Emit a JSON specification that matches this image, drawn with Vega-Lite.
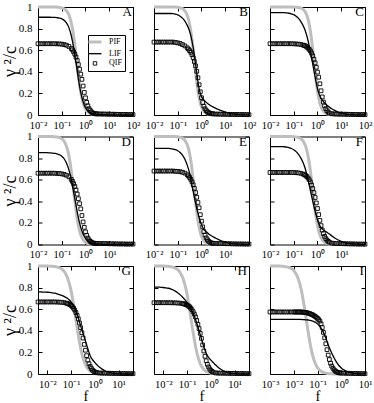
{
"$schema":"https://vega.github.io/schema/vega-lite/v6.json",
"padding":{"left":0,"top":0,"right":2,"bottom":0},
"background":"white",
"config":{
 "font":"Liberation Serif",
 "view":{"stroke":"black","strokeWidth":1},
 "axis":{"domain":false,"grid":false,"tickColor":"black","tickSize":-4,"tickWidth":1,"labelFont":"Liberation Serif","labelFontSize":11,"labelColor":"black","labelPadding":10,"labelOverlap":false,"labelFlush":false,"labelBound":false,"titleFont":"Liberation Serif","titleFontWeight":"normal","titleColor":"black"},
 "axisX":{"titleFontSize":14.5,"titlePadding":0,"labelFontSize":10.5,"labelPadding":9},
 "axisY":{"titleFontSize":18,"titlePadding":-1},
 "title":{"anchor":"end","font":"Liberation Serif","fontSize":13,"fontWeight":"normal","offset":-18,"dx":-8,"color":"black"},
 "line":{"interpolate":"monotone"},
 "point":{"shape":"square","filled":false,"stroke":"black","strokeWidth":0.9,"size":14,"opacity":1}
},
"data":{"name":"d"},
"columns":3,
"spacing":{"row":21.5,"column":21},
"bounds":"flush",
"concat":[
  {"width":95,"height":108,"title":"A",
   "transform":[{"filter":"datum.p==='A'"},{"fold":["PIF","LIF","QIF"],"as":["s","v"]}],
   "layer":[
    {"transform":[{"filter":"datum.s==='PIF'"}],"mark":{"type":"line","strokeWidth":3},
     "encoding":{
      "x":{"field":"f","type":"quantitative","scale":{"type":"log","domain":[0.01,100],"nice":false},"axis":{"values":[0.01,0.1,1,10,100],"title":null,"labelExpr":"'10' + replace(replace(replace(replace(replace(round(log(datum.value)/LN10) + '', '-', '⁻'), '0', '⁰'), '1', '¹'), '2', '²'), '3', '³')"}},
      "y":{"field":"v","type":"quantitative","scale":{"domain":[0,1],"nice":false},"axis":{"values":[0,0.2,0.4,0.6,0.8,1],"format":".1~f","title":"γ ²/c"}},
      "color":{"field":"s","type":"nominal","scale":{"domain":["PIF","LIF","QIF"],"range":["#bebebe","#000000","#000000"]},
        "legend":{"orient":"none","legendX":50,"legendY":28,"title":null,"direction":"vertical","fillColor":"white","strokeColor":"black","padding":3,"rowPadding":1.7,"labelFont":"Liberation Serif","labelFontSize":8,"labelColor":"black","labelOffset":10,"symbolSize":64,"symbolType":"stroke","labelExpr":"datum.label + '    '",
         "encode":{"symbols":{"update":{"shape":{"signal":"datum.value === 'QIF' ? 'square' : 'stroke'"},"size":{"signal":"datum.value === 'QIF' ? 12 : 169"},"strokeWidth":{"signal":"datum.value === 'PIF' ? 3 : datum.value === 'LIF' ? 1.3 : 0.9"},"fill":{"value":"transparent"}}}}}}}},
    {"transform":[{"filter":"datum.s==='LIF'"}],"mark":{"type":"line","strokeWidth":1.3},
     "encoding":{"x":{"field":"f","type":"quantitative","axis":null},"y":{"field":"v","type":"quantitative","axis":null},"color":{"field":"s","type":"nominal"}}},
    {"transform":[{"filter":"datum.s==='QIF'"}],"mark":"point",
     "encoding":{"x":{"field":"f","type":"quantitative","axis":{"orient":"top","values":[0.01,0.1,1,10,100],"labels":false,"title":null}},"y":{"field":"v","type":"quantitative","axis":{"orient":"right","values":[0,0.2,0.4,0.6,0.8,1],"labels":false,"title":null}}}}
   ],
   "resolve":{"axis":{"x":"independent","y":"independent"}}},
  {"width":95,"height":108,"title":"B",
   "transform":[{"filter":"datum.p==='B'"},{"fold":["PIF","LIF","QIF"],"as":["s","v"]}],
   "layer":[
    {"transform":[{"filter":"datum.s==='PIF'"}],"mark":{"type":"line","strokeWidth":3},
     "encoding":{
      "x":{"field":"f","type":"quantitative","scale":{"type":"log","domain":[0.01,100],"nice":false},"axis":{"values":[0.01,0.1,1,10,100],"title":null,"labelExpr":"'10' + replace(replace(replace(replace(replace(round(log(datum.value)/LN10) + '', '-', '⁻'), '0', '⁰'), '1', '¹'), '2', '²'), '3', '³')"}},
      "y":{"field":"v","type":"quantitative","scale":{"domain":[0,1],"nice":false},"axis":{"values":[0,0.2,0.4,0.6,0.8,1],"labels":false,"title":null}},
      "color":{"field":"s","type":"nominal"}}},
    {"transform":[{"filter":"datum.s==='LIF'"}],"mark":{"type":"line","strokeWidth":1.3},
     "encoding":{"x":{"field":"f","type":"quantitative","axis":null},"y":{"field":"v","type":"quantitative","axis":null},"color":{"field":"s","type":"nominal"}}},
    {"transform":[{"filter":"datum.s==='QIF'"}],"mark":"point",
     "encoding":{"x":{"field":"f","type":"quantitative","axis":{"orient":"top","values":[0.01,0.1,1,10,100],"labels":false,"title":null}},"y":{"field":"v","type":"quantitative","axis":{"orient":"right","values":[0,0.2,0.4,0.6,0.8,1],"labels":false,"title":null}}}}
   ],
   "resolve":{"axis":{"x":"independent","y":"independent"}}},
  {"width":95,"height":108,"title":"C",
   "transform":[{"filter":"datum.p==='C'"},{"fold":["PIF","LIF","QIF"],"as":["s","v"]}],
   "layer":[
    {"transform":[{"filter":"datum.s==='PIF'"}],"mark":{"type":"line","strokeWidth":3},
     "encoding":{
      "x":{"field":"f","type":"quantitative","scale":{"type":"log","domain":[0.01,100],"nice":false},"axis":{"values":[0.01,0.1,1,10,100],"title":null,"labelExpr":"'10' + replace(replace(replace(replace(replace(round(log(datum.value)/LN10) + '', '-', '⁻'), '0', '⁰'), '1', '¹'), '2', '²'), '3', '³')"}},
      "y":{"field":"v","type":"quantitative","scale":{"domain":[0,1],"nice":false},"axis":{"values":[0,0.2,0.4,0.6,0.8,1],"labels":false,"title":null}},
      "color":{"field":"s","type":"nominal"}}},
    {"transform":[{"filter":"datum.s==='LIF'"}],"mark":{"type":"line","strokeWidth":1.3},
     "encoding":{"x":{"field":"f","type":"quantitative","axis":null},"y":{"field":"v","type":"quantitative","axis":null},"color":{"field":"s","type":"nominal"}}},
    {"transform":[{"filter":"datum.s==='QIF'"}],"mark":"point",
     "encoding":{"x":{"field":"f","type":"quantitative","axis":{"orient":"top","values":[0.01,0.1,1,10,100],"labels":false,"title":null}},"y":{"field":"v","type":"quantitative","axis":{"orient":"right","values":[0,0.2,0.4,0.6,0.8,1],"labels":false,"title":null}}}}
   ],
   "resolve":{"axis":{"x":"independent","y":"independent"}}},
  {"width":95,"height":108,"title":"D",
   "transform":[{"filter":"datum.p==='D'"},{"fold":["PIF","LIF","QIF"],"as":["s","v"]}],
   "layer":[
    {"transform":[{"filter":"datum.s==='PIF'"}],"mark":{"type":"line","strokeWidth":3},
     "encoding":{
      "x":{"field":"f","type":"quantitative","scale":{"type":"log","domain":[0.01,100],"nice":false},"axis":{"values":[0.01,0.1,1,10],"title":null,"labelExpr":"'10' + replace(replace(replace(replace(replace(round(log(datum.value)/LN10) + '', '-', '⁻'), '0', '⁰'), '1', '¹'), '2', '²'), '3', '³')"}},
      "y":{"field":"v","type":"quantitative","scale":{"domain":[0,1],"nice":false},"axis":{"values":[0,0.2,0.4,0.6,0.8,1],"format":".1~f","title":"γ ²/c"}},
      "color":{"field":"s","type":"nominal"}}},
    {"transform":[{"filter":"datum.s==='LIF'"}],"mark":{"type":"line","strokeWidth":1.3},
     "encoding":{"x":{"field":"f","type":"quantitative","axis":null},"y":{"field":"v","type":"quantitative","axis":null},"color":{"field":"s","type":"nominal"}}},
    {"transform":[{"filter":"datum.s==='QIF'"}],"mark":"point",
     "encoding":{"x":{"field":"f","type":"quantitative","axis":{"orient":"top","values":[0.01,0.1,1,10],"labels":false,"title":null}},"y":{"field":"v","type":"quantitative","axis":{"orient":"right","values":[0,0.2,0.4,0.6,0.8,1],"labels":false,"title":null}}}}
   ],
   "resolve":{"axis":{"x":"independent","y":"independent"}}},
  {"width":95,"height":108,"title":"E",
   "transform":[{"filter":"datum.p==='E'"},{"fold":["PIF","LIF","QIF"],"as":["s","v"]}],
   "layer":[
    {"transform":[{"filter":"datum.s==='PIF'"}],"mark":{"type":"line","strokeWidth":3},
     "encoding":{
      "x":{"field":"f","type":"quantitative","scale":{"type":"log","domain":[0.01,100],"nice":false},"axis":{"values":[0.01,0.1,1,10],"title":null,"labelExpr":"'10' + replace(replace(replace(replace(replace(round(log(datum.value)/LN10) + '', '-', '⁻'), '0', '⁰'), '1', '¹'), '2', '²'), '3', '³')"}},
      "y":{"field":"v","type":"quantitative","scale":{"domain":[0,1],"nice":false},"axis":{"values":[0,0.2,0.4,0.6,0.8,1],"labels":false,"title":null}},
      "color":{"field":"s","type":"nominal"}}},
    {"transform":[{"filter":"datum.s==='LIF'"}],"mark":{"type":"line","strokeWidth":1.3},
     "encoding":{"x":{"field":"f","type":"quantitative","axis":null},"y":{"field":"v","type":"quantitative","axis":null},"color":{"field":"s","type":"nominal"}}},
    {"transform":[{"filter":"datum.s==='QIF'"}],"mark":"point",
     "encoding":{"x":{"field":"f","type":"quantitative","axis":{"orient":"top","values":[0.01,0.1,1,10],"labels":false,"title":null}},"y":{"field":"v","type":"quantitative","axis":{"orient":"right","values":[0,0.2,0.4,0.6,0.8,1],"labels":false,"title":null}}}}
   ],
   "resolve":{"axis":{"x":"independent","y":"independent"}}},
  {"width":95,"height":108,"title":"F",
   "transform":[{"filter":"datum.p==='F'"},{"fold":["PIF","LIF","QIF"],"as":["s","v"]}],
   "layer":[
    {"transform":[{"filter":"datum.s==='PIF'"}],"mark":{"type":"line","strokeWidth":3},
     "encoding":{
      "x":{"field":"f","type":"quantitative","scale":{"type":"log","domain":[0.01,100],"nice":false},"axis":{"values":[0.01,0.1,1,10],"title":null,"labelExpr":"'10' + replace(replace(replace(replace(replace(round(log(datum.value)/LN10) + '', '-', '⁻'), '0', '⁰'), '1', '¹'), '2', '²'), '3', '³')"}},
      "y":{"field":"v","type":"quantitative","scale":{"domain":[0,1],"nice":false},"axis":{"values":[0,0.2,0.4,0.6,0.8,1],"labels":false,"title":null}},
      "color":{"field":"s","type":"nominal"}}},
    {"transform":[{"filter":"datum.s==='LIF'"}],"mark":{"type":"line","strokeWidth":1.3},
     "encoding":{"x":{"field":"f","type":"quantitative","axis":null},"y":{"field":"v","type":"quantitative","axis":null},"color":{"field":"s","type":"nominal"}}},
    {"transform":[{"filter":"datum.s==='QIF'"}],"mark":"point",
     "encoding":{"x":{"field":"f","type":"quantitative","axis":{"orient":"top","values":[0.01,0.1,1,10],"labels":false,"title":null}},"y":{"field":"v","type":"quantitative","axis":{"orient":"right","values":[0,0.2,0.4,0.6,0.8,1],"labels":false,"title":null}}}}
   ],
   "resolve":{"axis":{"x":"independent","y":"independent"}}},
  {"width":95,"height":108,"title":"G",
   "transform":[{"filter":"datum.p==='G'"},{"fold":["PIF","LIF","QIF"],"as":["s","v"]}],
   "layer":[
    {"transform":[{"filter":"datum.s==='PIF'"}],"mark":{"type":"line","strokeWidth":3},
     "encoding":{
      "x":{"field":"f","type":"quantitative","scale":{"type":"log","domain":[0.004,40],"nice":false},"axis":{"values":[0.01,0.1,1,10],"title":"f","labelExpr":"'10' + replace(replace(replace(replace(replace(round(log(datum.value)/LN10) + '', '-', '⁻'), '0', '⁰'), '1', '¹'), '2', '²'), '3', '³')"}},
      "y":{"field":"v","type":"quantitative","scale":{"domain":[0,1],"nice":false},"axis":{"values":[0,0.2,0.4,0.6,0.8,1],"format":".1~f","title":"γ ²/c"}},
      "color":{"field":"s","type":"nominal"}}},
    {"transform":[{"filter":"datum.s==='LIF'"}],"mark":{"type":"line","strokeWidth":1.3},
     "encoding":{"x":{"field":"f","type":"quantitative","axis":null},"y":{"field":"v","type":"quantitative","axis":null},"color":{"field":"s","type":"nominal"}}},
    {"transform":[{"filter":"datum.s==='QIF'"}],"mark":"point",
     "encoding":{"x":{"field":"f","type":"quantitative","axis":{"orient":"top","values":[0.01,0.1,1,10],"labels":false,"title":null}},"y":{"field":"v","type":"quantitative","axis":{"orient":"right","values":[0,0.2,0.4,0.6,0.8,1],"labels":false,"title":null}}}}
   ],
   "resolve":{"axis":{"x":"independent","y":"independent"}}},
  {"width":95,"height":108,"title":"H",
   "transform":[{"filter":"datum.p==='H'"},{"fold":["PIF","LIF","QIF"],"as":["s","v"]}],
   "layer":[
    {"transform":[{"filter":"datum.s==='PIF'"}],"mark":{"type":"line","strokeWidth":3},
     "encoding":{
      "x":{"field":"f","type":"quantitative","scale":{"type":"log","domain":[0.004,40],"nice":false},"axis":{"values":[0.01,0.1,1,10],"title":"f","labelExpr":"'10' + replace(replace(replace(replace(replace(round(log(datum.value)/LN10) + '', '-', '⁻'), '0', '⁰'), '1', '¹'), '2', '²'), '3', '³')"}},
      "y":{"field":"v","type":"quantitative","scale":{"domain":[0,1],"nice":false},"axis":{"values":[0,0.2,0.4,0.6,0.8,1],"labels":false,"title":null}},
      "color":{"field":"s","type":"nominal"}}},
    {"transform":[{"filter":"datum.s==='LIF'"}],"mark":{"type":"line","strokeWidth":1.3},
     "encoding":{"x":{"field":"f","type":"quantitative","axis":null},"y":{"field":"v","type":"quantitative","axis":null},"color":{"field":"s","type":"nominal"}}},
    {"transform":[{"filter":"datum.s==='QIF'"}],"mark":"point",
     "encoding":{"x":{"field":"f","type":"quantitative","axis":{"orient":"top","values":[0.01,0.1,1,10],"labels":false,"title":null}},"y":{"field":"v","type":"quantitative","axis":{"orient":"right","values":[0,0.2,0.4,0.6,0.8,1],"labels":false,"title":null}}}}
   ],
   "resolve":{"axis":{"x":"independent","y":"independent"}}},
  {"width":95,"height":108,"title":"I",
   "transform":[{"filter":"datum.p==='I'"},{"fold":["PIF","LIF","QIF"],"as":["s","v"]}],
   "layer":[
    {"transform":[{"filter":"datum.s==='PIF'"}],"mark":{"type":"line","strokeWidth":3},
     "encoding":{
      "x":{"field":"f","type":"quantitative","scale":{"type":"log","domain":[0.001,10],"nice":false},"axis":{"values":[0.001,0.01,0.1,1,10],"title":"f","labelExpr":"'10' + replace(replace(replace(replace(replace(round(log(datum.value)/LN10) + '', '-', '⁻'), '0', '⁰'), '1', '¹'), '2', '²'), '3', '³')"}},
      "y":{"field":"v","type":"quantitative","scale":{"domain":[0,1],"nice":false},"axis":{"values":[0,0.2,0.4,0.6,0.8,1],"labels":false,"title":null}},
      "color":{"field":"s","type":"nominal"}}},
    {"transform":[{"filter":"datum.s==='LIF'"}],"mark":{"type":"line","strokeWidth":1.3},
     "encoding":{"x":{"field":"f","type":"quantitative","axis":null},"y":{"field":"v","type":"quantitative","axis":null},"color":{"field":"s","type":"nominal"}}},
    {"transform":[{"filter":"datum.s==='QIF'"}],"mark":"point",
     "encoding":{"x":{"field":"f","type":"quantitative","axis":{"orient":"top","values":[0.001,0.01,0.1,1,10],"labels":false,"title":null}},"y":{"field":"v","type":"quantitative","axis":{"orient":"right","values":[0,0.2,0.4,0.6,0.8,1],"labels":false,"title":null}}}}
   ],
   "resolve":{"axis":{"x":"independent","y":"independent"}}}
],
"datasets":{"d":[
{"p":"A","f":0.01,"PIF":1,"LIF":0.905,"QIF":0.66},
{"p":"A","f":0.0126,"PIF":1,"LIF":0.905,"QIF":0.66},
{"p":"A","f":0.0158,"PIF":1,"LIF":0.905,"QIF":0.66},
{"p":"A","f":0.02,"PIF":1,"LIF":0.905,"QIF":0.66},
{"p":"A","f":0.0251,"PIF":1,"LIF":0.905,"QIF":0.66},
{"p":"A","f":0.0316,"PIF":1,"LIF":0.905,"QIF":0.66},
{"p":"A","f":0.0398,"PIF":1,"LIF":0.904,"QIF":0.66},
{"p":"A","f":0.0501,"PIF":1,"LIF":0.903,"QIF":0.66},
{"p":"A","f":0.0631,"PIF":1,"LIF":0.901,"QIF":0.659},
{"p":"A","f":0.0794,"PIF":0.996,"LIF":0.898,"QIF":0.658},
{"p":"A","f":0.1,"PIF":0.992,"LIF":0.891,"QIF":0.656},
{"p":"A","f":0.126,"PIF":0.983,"LIF":0.878,"QIF":0.652},
{"p":"A","f":0.158,"PIF":0.965,"LIF":0.853,"QIF":0.646},
{"p":"A","f":0.2,"PIF":0.927,"LIF":0.809,"QIF":0.635},
{"p":"A","f":0.251,"PIF":0.854,"LIF":0.736,"QIF":0.616},
{"p":"A","f":0.282,"PIF":0.8,"LIF":0.684,"QIF":0.603},
{"p":"A","f":0.316,"PIF":0.731,"LIF":0.624,"QIF":0.585},
{"p":"A","f":0.355,"PIF":0.65,"LIF":0.557,"QIF":0.563},
{"p":"A","f":0.398,"PIF":0.557,"LIF":0.482,"QIF":0.537},
{"p":"A","f":0.447,"PIF":0.463,"LIF":0.407,"QIF":0.505},
{"p":"A","f":0.501,"PIF":0.368,"LIF":0.335,"QIF":0.467},
{"p":"A","f":0.562,"PIF":0.285,"LIF":0.267,"QIF":0.424},
{"p":"A","f":0.631,"PIF":0.212,"LIF":0.209,"QIF":0.378},
{"p":"A","f":0.708,"PIF":0.156,"LIF":0.161,"QIF":0.33},
{"p":"A","f":0.794,"PIF":0.111,"LIF":0.121,"QIF":0.268},
{"p":"A","f":0.891,"PIF":0.079,"LIF":0.09,"QIF":0.209},
{"p":"A","f":1,"PIF":0.055,"LIF":0.067,"QIF":0.159},
{"p":"A","f":1.122,"PIF":0.038,"LIF":0.049,"QIF":0.117},
{"p":"A","f":1.259,"PIF":0.026,"LIF":0.035,"QIF":0.085},
{"p":"A","f":1.413,"PIF":0.018,"LIF":0.025,"QIF":0.059},
{"p":"A","f":1.585,"PIF":0.012,"LIF":0.018,"QIF":0.042},
{"p":"A","f":1.778,"PIF":0.008,"LIF":0.013,"QIF":0.029},
{"p":"A","f":1.995,"PIF":0.006,"LIF":0.01,"QIF":0.02},
{"p":"A","f":2.239,"PIF":0.004,"LIF":0.008,"QIF":0.015},
{"p":"A","f":2.512,"PIF":0.003,"LIF":0.007,"QIF":0.012},
{"p":"A","f":2.818,"PIF":0.002,"LIF":0.006,"QIF":0.011},
{"p":"A","f":3.162,"PIF":0.002,"LIF":0.005,"QIF":0.01},
{"p":"A","f":3.981,"PIF":0.001,"LIF":0.004,"QIF":0.01},
{"p":"A","f":5.012,"PIF":0,"LIF":0.003,"QIF":0.009},
{"p":"A","f":6.31,"PIF":0,"LIF":0.003,"QIF":0.009},
{"p":"A","f":7.943,"PIF":0,"LIF":0.002,"QIF":0.008},
{"p":"A","f":10,"PIF":0,"LIF":0.002,"QIF":0.008},
{"p":"A","f":12.59,"PIF":0,"LIF":0.001,"QIF":0.007},
{"p":"A","f":15.85,"PIF":0,"LIF":0.001,"QIF":0.007},
{"p":"A","f":19.95,"PIF":0,"LIF":0.001,"QIF":0.006},
{"p":"A","f":25.12,"PIF":0,"LIF":0.001,"QIF":0.006},
{"p":"A","f":31.62,"PIF":0,"LIF":0,"QIF":0.005},
{"p":"A","f":39.81,"PIF":0,"LIF":0,"QIF":0.005},
{"p":"A","f":50.12,"PIF":0,"LIF":0,"QIF":0.005},
{"p":"A","f":63.1,"PIF":0,"LIF":0,"QIF":0.004},
{"p":"A","f":79.43,"PIF":0,"LIF":0,"QIF":0.004},
{"p":"A","f":100,"PIF":0,"LIF":0,"QIF":0.004},
{"p":"B","f":0.01,"PIF":1,"LIF":0.94,"QIF":0.675},
{"p":"B","f":0.0126,"PIF":1,"LIF":0.94,"QIF":0.675},
{"p":"B","f":0.0158,"PIF":1,"LIF":0.94,"QIF":0.675},
{"p":"B","f":0.02,"PIF":1,"LIF":0.94,"QIF":0.675},
{"p":"B","f":0.0251,"PIF":1,"LIF":0.94,"QIF":0.675},
{"p":"B","f":0.0316,"PIF":1,"LIF":0.94,"QIF":0.675},
{"p":"B","f":0.0398,"PIF":1,"LIF":0.94,"QIF":0.675},
{"p":"B","f":0.0501,"PIF":1,"LIF":0.94,"QIF":0.675},
{"p":"B","f":0.0631,"PIF":1,"LIF":0.938,"QIF":0.675},
{"p":"B","f":0.0794,"PIF":1,"LIF":0.934,"QIF":0.672},
{"p":"B","f":0.1,"PIF":0.997,"LIF":0.927,"QIF":0.668},
{"p":"B","f":0.126,"PIF":0.993,"LIF":0.915,"QIF":0.662},
{"p":"B","f":0.158,"PIF":0.985,"LIF":0.897,"QIF":0.652},
{"p":"B","f":0.2,"PIF":0.965,"LIF":0.87,"QIF":0.64},
{"p":"B","f":0.251,"PIF":0.924,"LIF":0.83,"QIF":0.622},
{"p":"B","f":0.282,"PIF":0.889,"LIF":0.805,"QIF":0.61},
{"p":"B","f":0.316,"PIF":0.841,"LIF":0.775,"QIF":0.596},
{"p":"B","f":0.355,"PIF":0.777,"LIF":0.735,"QIF":0.58},
{"p":"B","f":0.398,"PIF":0.697,"LIF":0.685,"QIF":0.558},
{"p":"B","f":0.447,"PIF":0.603,"LIF":0.625,"QIF":0.53},
{"p":"B","f":0.501,"PIF":0.5,"LIF":0.555,"QIF":0.495},
{"p":"B","f":0.562,"PIF":0.397,"LIF":0.475,"QIF":0.455},
{"p":"B","f":0.631,"PIF":0.303,"LIF":0.39,"QIF":0.405},
{"p":"B","f":0.708,"PIF":0.223,"LIF":0.31,"QIF":0.345},
{"p":"B","f":0.794,"PIF":0.159,"LIF":0.245,"QIF":0.28},
{"p":"B","f":0.891,"PIF":0.111,"LIF":0.2,"QIF":0.215},
{"p":"B","f":1,"PIF":0.076,"LIF":0.17,"QIF":0.16},
{"p":"B","f":1.122,"PIF":0.051,"LIF":0.152,"QIF":0.115},
{"p":"B","f":1.259,"PIF":0.035,"LIF":0.14,"QIF":0.082},
{"p":"B","f":1.413,"PIF":0.023,"LIF":0.128,"QIF":0.058},
{"p":"B","f":1.585,"PIF":0.015,"LIF":0.118,"QIF":0.041},
{"p":"B","f":1.778,"PIF":0.01,"LIF":0.108,"QIF":0.03},
{"p":"B","f":1.995,"PIF":0.007,"LIF":0.1,"QIF":0.022},
{"p":"B","f":2.239,"PIF":0.004,"LIF":0.092,"QIF":0.017},
{"p":"B","f":2.512,"PIF":0.003,"LIF":0.085,"QIF":0.014},
{"p":"B","f":2.818,"PIF":0.002,"LIF":0.079,"QIF":0.012},
{"p":"B","f":3.162,"PIF":0.002,"LIF":0.073,"QIF":0.01},
{"p":"B","f":3.981,"PIF":0.001,"LIF":0.062,"QIF":0.009},
{"p":"B","f":5.012,"PIF":0,"LIF":0.052,"QIF":0.008},
{"p":"B","f":6.31,"PIF":0,"LIF":0.043,"QIF":0.008},
{"p":"B","f":7.943,"PIF":0,"LIF":0.035,"QIF":0.007},
{"p":"B","f":10,"PIF":0,"LIF":0.027,"QIF":0.007},
{"p":"B","f":12.59,"PIF":0,"LIF":0.02,"QIF":0.006},
{"p":"B","f":15.85,"PIF":0,"LIF":0.015,"QIF":0.006},
{"p":"B","f":19.95,"PIF":0,"LIF":0.011,"QIF":0.005},
{"p":"B","f":25.12,"PIF":0,"LIF":0.008,"QIF":0.005},
{"p":"B","f":31.62,"PIF":0,"LIF":0.006,"QIF":0.005},
{"p":"B","f":39.81,"PIF":0,"LIF":0.004,"QIF":0.004},
{"p":"B","f":50.12,"PIF":0,"LIF":0.003,"QIF":0.004},
{"p":"B","f":63.1,"PIF":0,"LIF":0.002,"QIF":0.004},
{"p":"B","f":79.43,"PIF":0,"LIF":0.002,"QIF":0.003},
{"p":"B","f":100,"PIF":0,"LIF":0.001,"QIF":0.003},
{"p":"C","f":0.01,"PIF":1,"LIF":0.947,"QIF":0.66},
{"p":"C","f":0.0126,"PIF":1,"LIF":0.947,"QIF":0.66},
{"p":"C","f":0.0158,"PIF":1,"LIF":0.947,"QIF":0.66},
{"p":"C","f":0.02,"PIF":1,"LIF":0.947,"QIF":0.66},
{"p":"C","f":0.0251,"PIF":1,"LIF":0.947,"QIF":0.66},
{"p":"C","f":0.0316,"PIF":1,"LIF":0.947,"QIF":0.66},
{"p":"C","f":0.0398,"PIF":1,"LIF":0.947,"QIF":0.66},
{"p":"C","f":0.0501,"PIF":1,"LIF":0.945,"QIF":0.66},
{"p":"C","f":0.0631,"PIF":1,"LIF":0.942,"QIF":0.66},
{"p":"C","f":0.0794,"PIF":1,"LIF":0.937,"QIF":0.66},
{"p":"C","f":0.1,"PIF":1,"LIF":0.929,"QIF":0.659},
{"p":"C","f":0.126,"PIF":0.998,"LIF":0.915,"QIF":0.658},
{"p":"C","f":0.158,"PIF":0.996,"LIF":0.895,"QIF":0.656},
{"p":"C","f":0.2,"PIF":0.99,"LIF":0.865,"QIF":0.653},
{"p":"C","f":0.251,"PIF":0.977,"LIF":0.825,"QIF":0.647},
{"p":"C","f":0.282,"PIF":0.965,"LIF":0.8,"QIF":0.643},
{"p":"C","f":0.316,"PIF":0.949,"LIF":0.77,"QIF":0.638},
{"p":"C","f":0.355,"PIF":0.924,"LIF":0.735,"QIF":0.63},
{"p":"C","f":0.398,"PIF":0.889,"LIF":0.69,"QIF":0.62},
{"p":"C","f":0.447,"PIF":0.841,"LIF":0.64,"QIF":0.608},
{"p":"C","f":0.501,"PIF":0.777,"LIF":0.585,"QIF":0.593},
{"p":"C","f":0.562,"PIF":0.697,"LIF":0.53,"QIF":0.573},
{"p":"C","f":0.631,"PIF":0.603,"LIF":0.47,"QIF":0.548},
{"p":"C","f":0.708,"PIF":0.5,"LIF":0.41,"QIF":0.517},
{"p":"C","f":0.794,"PIF":0.397,"LIF":0.35,"QIF":0.482},
{"p":"C","f":0.891,"PIF":0.303,"LIF":0.295,"QIF":0.442},
{"p":"C","f":1,"PIF":0.223,"LIF":0.245,"QIF":0.397},
{"p":"C","f":1.122,"PIF":0.159,"LIF":0.205,"QIF":0.35},
{"p":"C","f":1.259,"PIF":0.111,"LIF":0.175,"QIF":0.289},
{"p":"C","f":1.413,"PIF":0.076,"LIF":0.155,"QIF":0.224},
{"p":"C","f":1.585,"PIF":0.051,"LIF":0.138,"QIF":0.167},
{"p":"C","f":1.778,"PIF":0.035,"LIF":0.124,"QIF":0.12},
{"p":"C","f":1.995,"PIF":0.023,"LIF":0.112,"QIF":0.085},
{"p":"C","f":2.239,"PIF":0.015,"LIF":0.1,"QIF":0.059},
{"p":"C","f":2.512,"PIF":0.01,"LIF":0.09,"QIF":0.04},
{"p":"C","f":2.818,"PIF":0.007,"LIF":0.081,"QIF":0.027},
{"p":"C","f":3.162,"PIF":0.004,"LIF":0.073,"QIF":0.018},
{"p":"C","f":3.981,"PIF":0.002,"LIF":0.058,"QIF":0.012},
{"p":"C","f":5.012,"PIF":0.001,"LIF":0.045,"QIF":0.01},
{"p":"C","f":6.31,"PIF":0,"LIF":0.034,"QIF":0.009},
{"p":"C","f":7.943,"PIF":0,"LIF":0.025,"QIF":0.008},
{"p":"C","f":10,"PIF":0,"LIF":0.018,"QIF":0.008},
{"p":"C","f":12.59,"PIF":0,"LIF":0.013,"QIF":0.007},
{"p":"C","f":15.85,"PIF":0,"LIF":0.009,"QIF":0.007},
{"p":"C","f":19.95,"PIF":0,"LIF":0.006,"QIF":0.006},
{"p":"C","f":25.12,"PIF":0,"LIF":0.004,"QIF":0.006},
{"p":"C","f":31.62,"PIF":0,"LIF":0.003,"QIF":0.005},
{"p":"C","f":39.81,"PIF":0,"LIF":0.002,"QIF":0.005},
{"p":"C","f":50.12,"PIF":0,"LIF":0.002,"QIF":0.004},
{"p":"C","f":63.1,"PIF":0,"LIF":0.001,"QIF":0.004},
{"p":"C","f":79.43,"PIF":0,"LIF":0.001,"QIF":0.004},
{"p":"C","f":100,"PIF":0,"LIF":0,"QIF":0.003},
{"p":"D","f":0.01,"PIF":1,"LIF":0.85,"QIF":0.66},
{"p":"D","f":0.0126,"PIF":1,"LIF":0.85,"QIF":0.66},
{"p":"D","f":0.0158,"PIF":1,"LIF":0.85,"QIF":0.66},
{"p":"D","f":0.02,"PIF":1,"LIF":0.85,"QIF":0.66},
{"p":"D","f":0.0251,"PIF":1,"LIF":0.85,"QIF":0.66},
{"p":"D","f":0.0316,"PIF":1,"LIF":0.848,"QIF":0.66},
{"p":"D","f":0.0398,"PIF":1,"LIF":0.847,"QIF":0.66},
{"p":"D","f":0.0501,"PIF":0.998,"LIF":0.844,"QIF":0.66},
{"p":"D","f":0.0631,"PIF":0.995,"LIF":0.84,"QIF":0.658},
{"p":"D","f":0.0794,"PIF":0.99,"LIF":0.831,"QIF":0.657},
{"p":"D","f":0.1,"PIF":0.979,"LIF":0.818,"QIF":0.654},
{"p":"D","f":0.126,"PIF":0.956,"LIF":0.794,"QIF":0.649},
{"p":"D","f":0.158,"PIF":0.91,"LIF":0.754,"QIF":0.641},
{"p":"D","f":0.2,"PIF":0.823,"LIF":0.691,"QIF":0.627},
{"p":"D","f":0.251,"PIF":0.684,"LIF":0.601,"QIF":0.603},
{"p":"D","f":0.282,"PIF":0.594,"LIF":0.547,"QIF":0.585},
{"p":"D","f":0.316,"PIF":0.5,"LIF":0.486,"QIF":0.563},
{"p":"D","f":0.355,"PIF":0.406,"LIF":0.425,"QIF":0.537},
{"p":"D","f":0.398,"PIF":0.316,"LIF":0.364,"QIF":0.505},
{"p":"D","f":0.447,"PIF":0.24,"LIF":0.303,"QIF":0.467},
{"p":"D","f":0.501,"PIF":0.177,"LIF":0.249,"QIF":0.424},
{"p":"D","f":0.562,"PIF":0.128,"LIF":0.2,"QIF":0.378},
{"p":"D","f":0.631,"PIF":0.09,"LIF":0.159,"QIF":0.33},
{"p":"D","f":0.708,"PIF":0.064,"LIF":0.125,"QIF":0.268},
{"p":"D","f":0.794,"PIF":0.044,"LIF":0.096,"QIF":0.209},
{"p":"D","f":0.891,"PIF":0.03,"LIF":0.074,"QIF":0.159},
{"p":"D","f":1,"PIF":0.021,"LIF":0.056,"QIF":0.117},
{"p":"D","f":1.122,"PIF":0.014,"LIF":0.043,"QIF":0.085},
{"p":"D","f":1.259,"PIF":0.01,"LIF":0.032,"QIF":0.059},
{"p":"D","f":1.413,"PIF":0.007,"LIF":0.024,"QIF":0.042},
{"p":"D","f":1.585,"PIF":0.005,"LIF":0.018,"QIF":0.029},
{"p":"D","f":1.778,"PIF":0.003,"LIF":0.014,"QIF":0.02},
{"p":"D","f":1.995,"PIF":0.002,"LIF":0.011,"QIF":0.015},
{"p":"D","f":2.239,"PIF":0.002,"LIF":0.008,"QIF":0.012},
{"p":"D","f":2.512,"PIF":0.001,"LIF":0.006,"QIF":0.011},
{"p":"D","f":2.818,"PIF":0,"LIF":0.005,"QIF":0.01},
{"p":"D","f":3.162,"PIF":0,"LIF":0.004,"QIF":0.01},
{"p":"D","f":3.981,"PIF":0,"LIF":0.003,"QIF":0.009},
{"p":"D","f":5.012,"PIF":0,"LIF":0.002,"QIF":0.009},
{"p":"D","f":6.31,"PIF":0,"LIF":0.002,"QIF":0.008},
{"p":"D","f":7.943,"PIF":0,"LIF":0.001,"QIF":0.008},
{"p":"D","f":10,"PIF":0,"LIF":0.001,"QIF":0.007},
{"p":"D","f":12.59,"PIF":0,"LIF":0,"QIF":0.007},
{"p":"D","f":15.85,"PIF":0,"LIF":0,"QIF":0.006},
{"p":"D","f":19.95,"PIF":0,"LIF":0,"QIF":0.006},
{"p":"D","f":25.12,"PIF":0,"LIF":0,"QIF":0.005},
{"p":"D","f":31.62,"PIF":0,"LIF":0,"QIF":0.005},
{"p":"D","f":39.81,"PIF":0,"LIF":0,"QIF":0.005},
{"p":"D","f":50.12,"PIF":0,"LIF":0,"QIF":0.004},
{"p":"D","f":63.1,"PIF":0,"LIF":0,"QIF":0.004},
{"p":"D","f":79.43,"PIF":0,"LIF":0,"QIF":0.004},
{"p":"D","f":100,"PIF":0,"LIF":0,"QIF":0.004},
{"p":"E","f":0.01,"PIF":1,"LIF":0.89,"QIF":0.68},
{"p":"E","f":0.0126,"PIF":1,"LIF":0.89,"QIF":0.68},
{"p":"E","f":0.0158,"PIF":1,"LIF":0.89,"QIF":0.68},
{"p":"E","f":0.02,"PIF":1,"LIF":0.89,"QIF":0.68},
{"p":"E","f":0.0251,"PIF":1,"LIF":0.89,"QIF":0.68},
{"p":"E","f":0.0316,"PIF":1,"LIF":0.89,"QIF":0.68},
{"p":"E","f":0.0398,"PIF":1,"LIF":0.89,"QIF":0.68},
{"p":"E","f":0.0501,"PIF":1,"LIF":0.888,"QIF":0.68},
{"p":"E","f":0.0631,"PIF":1,"LIF":0.884,"QIF":0.68},
{"p":"E","f":0.0794,"PIF":1,"LIF":0.878,"QIF":0.678},
{"p":"E","f":0.1,"PIF":0.997,"LIF":0.868,"QIF":0.677},
{"p":"E","f":0.126,"PIF":0.993,"LIF":0.852,"QIF":0.674},
{"p":"E","f":0.158,"PIF":0.985,"LIF":0.828,"QIF":0.669},
{"p":"E","f":0.2,"PIF":0.965,"LIF":0.79,"QIF":0.661},
{"p":"E","f":0.251,"PIF":0.924,"LIF":0.735,"QIF":0.646},
{"p":"E","f":0.282,"PIF":0.889,"LIF":0.7,"QIF":0.635},
{"p":"E","f":0.316,"PIF":0.841,"LIF":0.66,"QIF":0.621},
{"p":"E","f":0.355,"PIF":0.777,"LIF":0.6,"QIF":0.603},
{"p":"E","f":0.398,"PIF":0.697,"LIF":0.545,"QIF":0.58},
{"p":"E","f":0.447,"PIF":0.603,"LIF":0.49,"QIF":0.553},
{"p":"E","f":0.501,"PIF":0.5,"LIF":0.435,"QIF":0.52},
{"p":"E","f":0.562,"PIF":0.397,"LIF":0.385,"QIF":0.481},
{"p":"E","f":0.631,"PIF":0.303,"LIF":0.335,"QIF":0.437},
{"p":"E","f":0.708,"PIF":0.223,"LIF":0.29,"QIF":0.389},
{"p":"E","f":0.794,"PIF":0.159,"LIF":0.25,"QIF":0.34},
{"p":"E","f":0.891,"PIF":0.111,"LIF":0.215,"QIF":0.276},
{"p":"E","f":1,"PIF":0.076,"LIF":0.185,"QIF":0.216},
{"p":"E","f":1.122,"PIF":0.051,"LIF":0.16,"QIF":0.163},
{"p":"E","f":1.259,"PIF":0.035,"LIF":0.14,"QIF":0.12},
{"p":"E","f":1.413,"PIF":0.023,"LIF":0.127,"QIF":0.087},
{"p":"E","f":1.585,"PIF":0.015,"LIF":0.117,"QIF":0.061},
{"p":"E","f":1.778,"PIF":0.01,"LIF":0.108,"QIF":0.044},
{"p":"E","f":1.995,"PIF":0.007,"LIF":0.098,"QIF":0.03},
{"p":"E","f":2.239,"PIF":0.004,"LIF":0.09,"QIF":0.021},
{"p":"E","f":2.512,"PIF":0.003,"LIF":0.083,"QIF":0.015},
{"p":"E","f":2.818,"PIF":0.002,"LIF":0.076,"QIF":0.012},
{"p":"E","f":3.162,"PIF":0.002,"LIF":0.07,"QIF":0.011},
{"p":"E","f":3.981,"PIF":0.001,"LIF":0.058,"QIF":0.01},
{"p":"E","f":5.012,"PIF":0,"LIF":0.047,"QIF":0.009},
{"p":"E","f":6.31,"PIF":0,"LIF":0.037,"QIF":0.009},
{"p":"E","f":7.943,"PIF":0,"LIF":0.028,"QIF":0.008},
{"p":"E","f":10,"PIF":0,"LIF":0.021,"QIF":0.008},
{"p":"E","f":12.59,"PIF":0,"LIF":0.015,"QIF":0.007},
{"p":"E","f":15.85,"PIF":0,"LIF":0.011,"QIF":0.007},
{"p":"E","f":19.95,"PIF":0,"LIF":0.008,"QIF":0.006},
{"p":"E","f":25.12,"PIF":0,"LIF":0.006,"QIF":0.006},
{"p":"E","f":31.62,"PIF":0,"LIF":0.004,"QIF":0.005},
{"p":"E","f":39.81,"PIF":0,"LIF":0.003,"QIF":0.005},
{"p":"E","f":50.12,"PIF":0,"LIF":0.002,"QIF":0.005},
{"p":"E","f":63.1,"PIF":0,"LIF":0.002,"QIF":0.004},
{"p":"E","f":79.43,"PIF":0,"LIF":0.001,"QIF":0.004},
{"p":"E","f":100,"PIF":0,"LIF":0.001,"QIF":0.004},
{"p":"F","f":0.01,"PIF":1,"LIF":0.907,"QIF":0.667},
{"p":"F","f":0.0126,"PIF":1,"LIF":0.907,"QIF":0.667},
{"p":"F","f":0.0158,"PIF":1,"LIF":0.907,"QIF":0.667},
{"p":"F","f":0.02,"PIF":1,"LIF":0.907,"QIF":0.667},
{"p":"F","f":0.0251,"PIF":1,"LIF":0.907,"QIF":0.667},
{"p":"F","f":0.0316,"PIF":1,"LIF":0.907,"QIF":0.667},
{"p":"F","f":0.0398,"PIF":1,"LIF":0.905,"QIF":0.667},
{"p":"F","f":0.0501,"PIF":1,"LIF":0.902,"QIF":0.667},
{"p":"F","f":0.0631,"PIF":1,"LIF":0.897,"QIF":0.667},
{"p":"F","f":0.0794,"PIF":1,"LIF":0.889,"QIF":0.667},
{"p":"F","f":0.1,"PIF":0.998,"LIF":0.877,"QIF":0.666},
{"p":"F","f":0.126,"PIF":0.995,"LIF":0.86,"QIF":0.665},
{"p":"F","f":0.158,"PIF":0.99,"LIF":0.835,"QIF":0.663},
{"p":"F","f":0.2,"PIF":0.979,"LIF":0.8,"QIF":0.659},
{"p":"F","f":0.251,"PIF":0.956,"LIF":0.755,"QIF":0.652},
{"p":"F","f":0.282,"PIF":0.936,"LIF":0.725,"QIF":0.646},
{"p":"F","f":0.316,"PIF":0.91,"LIF":0.69,"QIF":0.639},
{"p":"F","f":0.355,"PIF":0.872,"LIF":0.648,"QIF":0.629},
{"p":"F","f":0.398,"PIF":0.823,"LIF":0.6,"QIF":0.616},
{"p":"F","f":0.447,"PIF":0.76,"LIF":0.55,"QIF":0.6},
{"p":"F","f":0.501,"PIF":0.684,"LIF":0.5,"QIF":0.579},
{"p":"F","f":0.562,"PIF":0.594,"LIF":0.45,"QIF":0.551},
{"p":"F","f":0.631,"PIF":0.5,"LIF":0.4,"QIF":0.518},
{"p":"F","f":0.708,"PIF":0.406,"LIF":0.352,"QIF":0.48},
{"p":"F","f":0.794,"PIF":0.316,"LIF":0.307,"QIF":0.435},
{"p":"F","f":0.891,"PIF":0.24,"LIF":0.265,"QIF":0.385},
{"p":"F","f":1,"PIF":0.177,"LIF":0.228,"QIF":0.333},
{"p":"F","f":1.122,"PIF":0.128,"LIF":0.197,"QIF":0.277},
{"p":"F","f":1.259,"PIF":0.09,"LIF":0.172,"QIF":0.223},
{"p":"F","f":1.413,"PIF":0.064,"LIF":0.155,"QIF":0.175},
{"p":"F","f":1.585,"PIF":0.044,"LIF":0.143,"QIF":0.134},
{"p":"F","f":1.778,"PIF":0.03,"LIF":0.135,"QIF":0.101},
{"p":"F","f":1.995,"PIF":0.021,"LIF":0.128,"QIF":0.075},
{"p":"F","f":2.239,"PIF":0.014,"LIF":0.121,"QIF":0.055},
{"p":"F","f":2.512,"PIF":0.01,"LIF":0.113,"QIF":0.04},
{"p":"F","f":2.818,"PIF":0.007,"LIF":0.105,"QIF":0.029},
{"p":"F","f":3.162,"PIF":0.005,"LIF":0.097,"QIF":0.021},
{"p":"F","f":3.981,"PIF":0.002,"LIF":0.08,"QIF":0.013},
{"p":"F","f":5.012,"PIF":0.001,"LIF":0.065,"QIF":0.01},
{"p":"F","f":6.31,"PIF":0,"LIF":0.051,"QIF":0.009},
{"p":"F","f":7.943,"PIF":0,"LIF":0.039,"QIF":0.008},
{"p":"F","f":10,"PIF":0,"LIF":0.029,"QIF":0.008},
{"p":"F","f":12.59,"PIF":0,"LIF":0.021,"QIF":0.007},
{"p":"F","f":15.85,"PIF":0,"LIF":0.015,"QIF":0.007},
{"p":"F","f":19.95,"PIF":0,"LIF":0.011,"QIF":0.006},
{"p":"F","f":25.12,"PIF":0,"LIF":0.008,"QIF":0.006},
{"p":"F","f":31.62,"PIF":0,"LIF":0.006,"QIF":0.005},
{"p":"F","f":39.81,"PIF":0,"LIF":0.004,"QIF":0.005},
{"p":"F","f":50.12,"PIF":0,"LIF":0.003,"QIF":0.004},
{"p":"F","f":63.1,"PIF":0,"LIF":0.002,"QIF":0.004},
{"p":"F","f":79.43,"PIF":0,"LIF":0.001,"QIF":0.004},
{"p":"F","f":100,"PIF":0,"LIF":0.001,"QIF":0.003},
{"p":"G","f":0.004,"PIF":1,"LIF":0.76,"QIF":0.667},
{"p":"G","f":0.00501,"PIF":1,"LIF":0.76,"QIF":0.667},
{"p":"G","f":0.00631,"PIF":1,"LIF":0.759,"QIF":0.667},
{"p":"G","f":0.00794,"PIF":1,"LIF":0.758,"QIF":0.667},
{"p":"G","f":0.01,"PIF":1,"LIF":0.757,"QIF":0.667},
{"p":"G","f":0.0126,"PIF":0.998,"LIF":0.755,"QIF":0.667},
{"p":"G","f":0.0158,"PIF":0.997,"LIF":0.752,"QIF":0.667},
{"p":"G","f":0.02,"PIF":0.995,"LIF":0.748,"QIF":0.667},
{"p":"G","f":0.0251,"PIF":0.991,"LIF":0.743,"QIF":0.666},
{"p":"G","f":0.0316,"PIF":0.984,"LIF":0.736,"QIF":0.665},
{"p":"G","f":0.0398,"PIF":0.972,"LIF":0.728,"QIF":0.664},
{"p":"G","f":0.0501,"PIF":0.95,"LIF":0.718,"QIF":0.661},
{"p":"G","f":0.0631,"PIF":0.913,"LIF":0.706,"QIF":0.656},
{"p":"G","f":0.0708,"PIF":0.887,"LIF":0.699,"QIF":0.652},
{"p":"G","f":0.0794,"PIF":0.853,"LIF":0.69,"QIF":0.648},
{"p":"G","f":0.0891,"PIF":0.813,"LIF":0.68,"QIF":0.642},
{"p":"G","f":0.1,"PIF":0.765,"LIF":0.666,"QIF":0.634},
{"p":"G","f":0.112,"PIF":0.707,"LIF":0.65,"QIF":0.623},
{"p":"G","f":0.126,"PIF":0.643,"LIF":0.63,"QIF":0.609},
{"p":"G","f":0.141,"PIF":0.572,"LIF":0.605,"QIF":0.592},
{"p":"G","f":0.158,"PIF":0.5,"LIF":0.578,"QIF":0.569},
{"p":"G","f":0.178,"PIF":0.428,"LIF":0.548,"QIF":0.542},
{"p":"G","f":0.2,"PIF":0.357,"LIF":0.515,"QIF":0.51},
{"p":"G","f":0.224,"PIF":0.293,"LIF":0.48,"QIF":0.472},
{"p":"G","f":0.251,"PIF":0.235,"LIF":0.445,"QIF":0.429},
{"p":"G","f":0.282,"PIF":0.187,"LIF":0.41,"QIF":0.382},
{"p":"G","f":0.316,"PIF":0.147,"LIF":0.375,"QIF":0.333},
{"p":"G","f":0.355,"PIF":0.113,"LIF":0.34,"QIF":0.274},
{"p":"G","f":0.398,"PIF":0.087,"LIF":0.305,"QIF":0.22},
{"p":"G","f":0.447,"PIF":0.066,"LIF":0.27,"QIF":0.17},
{"p":"G","f":0.501,"PIF":0.05,"LIF":0.235,"QIF":0.129},
{"p":"G","f":0.562,"PIF":0.038,"LIF":0.2,"QIF":0.095},
{"p":"G","f":0.631,"PIF":0.028,"LIF":0.17,"QIF":0.07},
{"p":"G","f":0.708,"PIF":0.021,"LIF":0.148,"QIF":0.051},
{"p":"G","f":0.794,"PIF":0.016,"LIF":0.132,"QIF":0.036},
{"p":"G","f":0.891,"PIF":0.012,"LIF":0.118,"QIF":0.026},
{"p":"G","f":1,"PIF":0.009,"LIF":0.105,"QIF":0.018},
{"p":"G","f":1.122,"PIF":0.007,"LIF":0.093,"QIF":0.013},
{"p":"G","f":1.259,"PIF":0.005,"LIF":0.082,"QIF":0.011},
{"p":"G","f":1.585,"PIF":0.003,"LIF":0.062,"QIF":0.009},
{"p":"G","f":1.995,"PIF":0.002,"LIF":0.045,"QIF":0.008},
{"p":"G","f":2.512,"PIF":0.001,"LIF":0.032,"QIF":0.008},
{"p":"G","f":3.162,"PIF":0,"LIF":0.021,"QIF":0.007},
{"p":"G","f":3.981,"PIF":0,"LIF":0.014,"QIF":0.007},
{"p":"G","f":5.012,"PIF":0,"LIF":0.009,"QIF":0.006},
{"p":"G","f":6.31,"PIF":0,"LIF":0.005,"QIF":0.006},
{"p":"G","f":7.943,"PIF":0,"LIF":0.003,"QIF":0.005},
{"p":"G","f":10,"PIF":0,"LIF":0.002,"QIF":0.005},
{"p":"G","f":12.59,"PIF":0,"LIF":0.001,"QIF":0.004},
{"p":"G","f":15.85,"PIF":0,"LIF":0,"QIF":0.004},
{"p":"G","f":19.95,"PIF":0,"LIF":0,"QIF":0.004},
{"p":"G","f":25.12,"PIF":0,"LIF":0,"QIF":0.003},
{"p":"G","f":31.62,"PIF":0,"LIF":0,"QIF":0.003},
{"p":"G","f":40,"PIF":0,"LIF":0,"QIF":0.003},
{"p":"H","f":0.004,"PIF":1,"LIF":0.805,"QIF":0.66},
{"p":"H","f":0.00501,"PIF":1,"LIF":0.805,"QIF":0.66},
{"p":"H","f":0.00631,"PIF":1,"LIF":0.804,"QIF":0.66},
{"p":"H","f":0.00794,"PIF":1,"LIF":0.803,"QIF":0.66},
{"p":"H","f":0.01,"PIF":1,"LIF":0.801,"QIF":0.66},
{"p":"H","f":0.0126,"PIF":0.998,"LIF":0.798,"QIF":0.66},
{"p":"H","f":0.0158,"PIF":0.997,"LIF":0.794,"QIF":0.66},
{"p":"H","f":0.02,"PIF":0.994,"LIF":0.788,"QIF":0.66},
{"p":"H","f":0.0251,"PIF":0.989,"LIF":0.779,"QIF":0.659},
{"p":"H","f":0.0316,"PIF":0.981,"LIF":0.767,"QIF":0.659},
{"p":"H","f":0.0398,"PIF":0.966,"LIF":0.752,"QIF":0.657},
{"p":"H","f":0.0501,"PIF":0.94,"LIF":0.735,"QIF":0.656},
{"p":"H","f":0.0631,"PIF":0.898,"LIF":0.713,"QIF":0.652},
{"p":"H","f":0.0708,"PIF":0.868,"LIF":0.701,"QIF":0.65},
{"p":"H","f":0.0794,"PIF":0.83,"LIF":0.689,"QIF":0.647},
{"p":"H","f":0.0891,"PIF":0.784,"LIF":0.675,"QIF":0.643},
{"p":"H","f":0.1,"PIF":0.731,"LIF":0.66,"QIF":0.637},
{"p":"H","f":0.112,"PIF":0.67,"LIF":0.645,"QIF":0.63},
{"p":"H","f":0.126,"PIF":0.601,"LIF":0.628,"QIF":0.622},
{"p":"H","f":0.141,"PIF":0.53,"LIF":0.608,"QIF":0.61},
{"p":"H","f":0.158,"PIF":0.455,"LIF":0.586,"QIF":0.595},
{"p":"H","f":0.178,"PIF":0.385,"LIF":0.562,"QIF":0.577},
{"p":"H","f":0.2,"PIF":0.319,"LIF":0.535,"QIF":0.555},
{"p":"H","f":0.224,"PIF":0.257,"LIF":0.505,"QIF":0.528},
{"p":"H","f":0.251,"PIF":0.206,"LIF":0.472,"QIF":0.496},
{"p":"H","f":0.282,"PIF":0.161,"LIF":0.437,"QIF":0.46},
{"p":"H","f":0.316,"PIF":0.126,"LIF":0.4,"QIF":0.42},
{"p":"H","f":0.355,"PIF":0.096,"LIF":0.362,"QIF":0.376},
{"p":"H","f":0.398,"PIF":0.074,"LIF":0.324,"QIF":0.33},
{"p":"H","f":0.447,"PIF":0.056,"LIF":0.287,"QIF":0.269},
{"p":"H","f":0.501,"PIF":0.042,"LIF":0.252,"QIF":0.213},
{"p":"H","f":0.562,"PIF":0.032,"LIF":0.22,"QIF":0.164},
{"p":"H","f":0.631,"PIF":0.024,"LIF":0.192,"QIF":0.122},
{"p":"H","f":0.708,"PIF":0.018,"LIF":0.17,"QIF":0.09},
{"p":"H","f":0.794,"PIF":0.013,"LIF":0.153,"QIF":0.065},
{"p":"H","f":0.891,"PIF":0.01,"LIF":0.14,"QIF":0.046},
{"p":"H","f":1,"PIF":0.007,"LIF":0.128,"QIF":0.032},
{"p":"H","f":1.122,"PIF":0.005,"LIF":0.116,"QIF":0.023},
{"p":"H","f":1.259,"PIF":0.004,"LIF":0.105,"QIF":0.016},
{"p":"H","f":1.585,"PIF":0.002,"LIF":0.083,"QIF":0.01},
{"p":"H","f":1.995,"PIF":0.001,"LIF":0.063,"QIF":0.009},
{"p":"H","f":2.512,"PIF":0,"LIF":0.046,"QIF":0.008},
{"p":"H","f":3.162,"PIF":0,"LIF":0.032,"QIF":0.008},
{"p":"H","f":3.981,"PIF":0,"LIF":0.021,"QIF":0.007},
{"p":"H","f":5.012,"PIF":0,"LIF":0.013,"QIF":0.007},
{"p":"H","f":6.31,"PIF":0,"LIF":0.008,"QIF":0.006},
{"p":"H","f":7.943,"PIF":0,"LIF":0.005,"QIF":0.006},
{"p":"H","f":10,"PIF":0,"LIF":0.003,"QIF":0.005},
{"p":"H","f":12.59,"PIF":0,"LIF":0.002,"QIF":0.005},
{"p":"H","f":15.85,"PIF":0,"LIF":0.001,"QIF":0.004},
{"p":"H","f":19.95,"PIF":0,"LIF":0,"QIF":0.004},
{"p":"H","f":25.12,"PIF":0,"LIF":0,"QIF":0.004},
{"p":"H","f":31.62,"PIF":0,"LIF":0,"QIF":0.003},
{"p":"H","f":40,"PIF":0,"LIF":0,"QIF":0.003},
{"p":"I","f":0.001,"PIF":1,"LIF":0.506,"QIF":0.574},
{"p":"I","f":0.00126,"PIF":1,"LIF":0.506,"QIF":0.574},
{"p":"I","f":0.00158,"PIF":1,"LIF":0.506,"QIF":0.574},
{"p":"I","f":0.002,"PIF":1,"LIF":0.506,"QIF":0.574},
{"p":"I","f":0.00251,"PIF":1,"LIF":0.506,"QIF":0.574},
{"p":"I","f":0.00316,"PIF":0.998,"LIF":0.506,"QIF":0.574},
{"p":"I","f":0.00398,"PIF":0.996,"LIF":0.506,"QIF":0.574},
{"p":"I","f":0.00501,"PIF":0.992,"LIF":0.506,"QIF":0.574},
{"p":"I","f":0.00631,"PIF":0.986,"LIF":0.506,"QIF":0.574},
{"p":"I","f":0.00794,"PIF":0.976,"LIF":0.506,"QIF":0.574},
{"p":"I","f":0.01,"PIF":0.958,"LIF":0.506,"QIF":0.574},
{"p":"I","f":0.0112,"PIF":0.944,"LIF":0.505,"QIF":0.574},
{"p":"I","f":0.0126,"PIF":0.926,"LIF":0.505,"QIF":0.574},
{"p":"I","f":0.0141,"PIF":0.904,"LIF":0.505,"QIF":0.574},
{"p":"I","f":0.0158,"PIF":0.874,"LIF":0.505,"QIF":0.574},
{"p":"I","f":0.0178,"PIF":0.839,"LIF":0.505,"QIF":0.574},
{"p":"I","f":0.02,"PIF":0.794,"LIF":0.505,"QIF":0.574},
{"p":"I","f":0.0224,"PIF":0.743,"LIF":0.504,"QIF":0.573},
{"p":"I","f":0.0251,"PIF":0.681,"LIF":0.504,"QIF":0.572},
{"p":"I","f":0.0282,"PIF":0.615,"LIF":0.503,"QIF":0.571},
{"p":"I","f":0.0316,"PIF":0.545,"LIF":0.502,"QIF":0.569},
{"p":"I","f":0.0355,"PIF":0.47,"LIF":0.501,"QIF":0.567},
{"p":"I","f":0.0398,"PIF":0.399,"LIF":0.5,"QIF":0.564},
{"p":"I","f":0.0447,"PIF":0.33,"LIF":0.498,"QIF":0.561},
{"p":"I","f":0.0501,"PIF":0.269,"LIF":0.496,"QIF":0.557},
{"p":"I","f":0.0562,"PIF":0.216,"LIF":0.493,"QIF":0.552},
{"p":"I","f":0.0631,"PIF":0.169,"LIF":0.49,"QIF":0.547},
{"p":"I","f":0.0708,"PIF":0.132,"LIF":0.485,"QIF":0.54},
{"p":"I","f":0.0794,"PIF":0.102,"LIF":0.48,"QIF":0.533},
{"p":"I","f":0.0891,"PIF":0.078,"LIF":0.473,"QIF":0.525},
{"p":"I","f":0.1,"PIF":0.06,"LIF":0.464,"QIF":0.515},
{"p":"I","f":0.112,"PIF":0.045,"LIF":0.453,"QIF":0.504},
{"p":"I","f":0.126,"PIF":0.034,"LIF":0.44,"QIF":0.49},
{"p":"I","f":0.141,"PIF":0.025,"LIF":0.425,"QIF":0.465},
{"p":"I","f":0.158,"PIF":0.019,"LIF":0.406,"QIF":0.43},
{"p":"I","f":0.178,"PIF":0.014,"LIF":0.385,"QIF":0.385},
{"p":"I","f":0.2,"PIF":0.011,"LIF":0.36,"QIF":0.335},
{"p":"I","f":0.224,"PIF":0.008,"LIF":0.332,"QIF":0.28},
{"p":"I","f":0.251,"PIF":0.006,"LIF":0.303,"QIF":0.225},
{"p":"I","f":0.282,"PIF":0.004,"LIF":0.272,"QIF":0.175},
{"p":"I","f":0.316,"PIF":0.003,"LIF":0.243,"QIF":0.134},
{"p":"I","f":0.355,"PIF":0.002,"LIF":0.218,"QIF":0.1},
{"p":"I","f":0.398,"PIF":0.002,"LIF":0.193,"QIF":0.073},
{"p":"I","f":0.447,"PIF":0.001,"LIF":0.17,"QIF":0.053},
{"p":"I","f":0.501,"PIF":0.001,"LIF":0.148,"QIF":0.038},
{"p":"I","f":0.562,"PIF":0,"LIF":0.128,"QIF":0.028},
{"p":"I","f":0.631,"PIF":0,"LIF":0.11,"QIF":0.02},
{"p":"I","f":0.708,"PIF":0,"LIF":0.094,"QIF":0.015},
{"p":"I","f":0.794,"PIF":0,"LIF":0.079,"QIF":0.012},
{"p":"I","f":0.891,"PIF":0,"LIF":0.067,"QIF":0.01},
{"p":"I","f":1,"PIF":0,"LIF":0.056,"QIF":0.009},
{"p":"I","f":1.259,"PIF":0,"LIF":0.039,"QIF":0.008},
{"p":"I","f":1.585,"PIF":0,"LIF":0.027,"QIF":0.007},
{"p":"I","f":1.995,"PIF":0,"LIF":0.018,"QIF":0.007},
{"p":"I","f":2.512,"PIF":0,"LIF":0.012,"QIF":0.006},
{"p":"I","f":3.162,"PIF":0,"LIF":0.008,"QIF":0.005},
{"p":"I","f":3.981,"PIF":0,"LIF":0.005,"QIF":0.005},
{"p":"I","f":5.012,"PIF":0,"LIF":0.004,"QIF":0.004},
{"p":"I","f":6.31,"PIF":0,"LIF":0.002,"QIF":0.004},
{"p":"I","f":7.943,"PIF":0,"LIF":0.002,"QIF":0.003},
{"p":"I","f":10,"PIF":0,"LIF":0.001,"QIF":0.003}
]}
}
